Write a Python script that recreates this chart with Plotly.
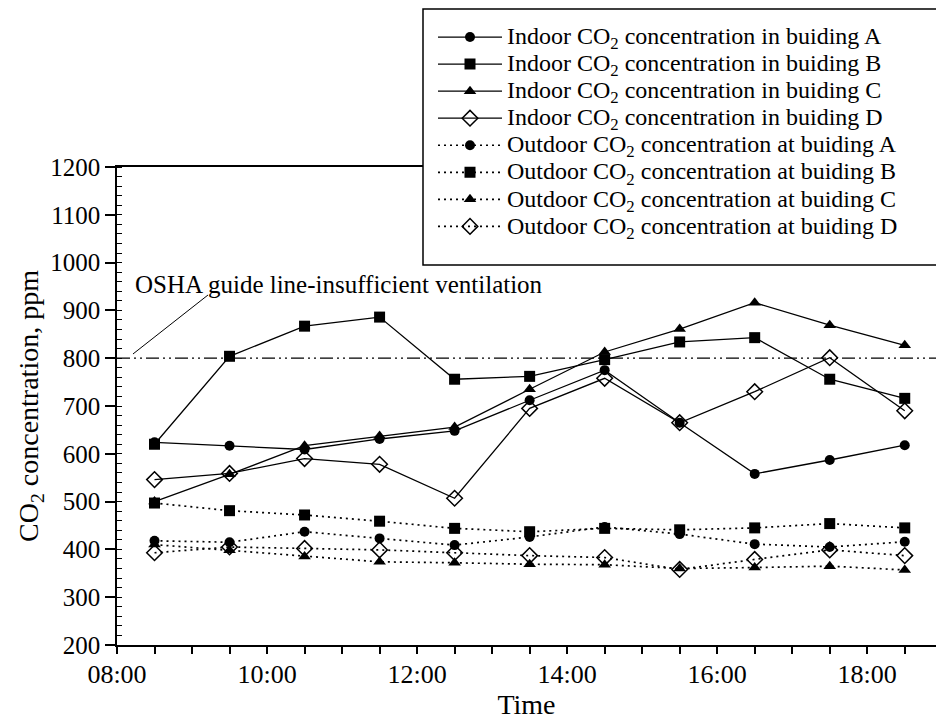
import plotly.graph_objects as go

# ---- data ----
times = ["08:30", "09:30", "10:30", "11:30", "12:30", "13:30",
         "14:30", "15:30", "16:30", "17:30", "18:30"]

indoor_A = [624, 617, 609, 631, 648, 712, 775, 665, 558, 587, 618]
indoor_B = [620, 804, 867, 886, 756, 762, 797, 834, 843, 756, 716]
indoor_C = [500, 557, 617, 637, 656, 735, 813, 861, 916, 869, 827]
indoor_D = [546, 559, 590, 578, 507, 695, 758, 665, 730, 801, 690]

outdoor_A = [418, 415, 437, 423, 409, 426, 447, 432, 411, 405, 416]
outdoor_B = [497, 481, 472, 459, 444, 437, 444, 441, 445, 454, 445]
outdoor_C = [410, 398, 385, 374, 372, 369, 368, 360, 362, 365, 357]
outdoor_D = [393, 405, 402, 399, 393, 387, 383, 358, 379, 399, 387]

osha_level = 800
osha_label = "OSHA guide line-insufficient ventilation"

# ---- build ----
DAY = "2000-01-01 "
x = [DAY + t for t in times]

FONT = "Liberation Serif, Times New Roman, serif"

series = [
    ("Indoor", "in", "A", indoor_A, "circle", 10, "solid"),
    ("Indoor", "in", "B", indoor_B, "square", 11, "solid"),
    ("Indoor", "in", "C", indoor_C, "triangle-up", 11, "solid"),
    ("Indoor", "in", "D", indoor_D, "diamond-open", 12, "solid"),
    ("Outdoor", "at", "A", outdoor_A, "circle", 10, "2px,4px"),
    ("Outdoor", "at", "B", outdoor_B, "square", 11, "2px,4px"),
    ("Outdoor", "at", "C", outdoor_C, "triangle-up", 11, "2px,4px"),
    ("Outdoor", "at", "D", outdoor_D, "diamond-open", 12, "2px,4px"),
]

fig = go.Figure()
for kind, prep, bld, vals, sym, size, dash in series:
    name = (f'<span style="font-size:24px">{kind} CO<sub>2</sub> '
            f'concentration {prep} buiding {bld}</span>')
    open_sym = sym.endswith("open")
    fig.add_trace(go.Scatter(
        x=x, y=vals, name=name, mode="lines+markers",
        line=dict(color="black", width=1.3 if dash == "solid" else 1.7, dash=dash),
        marker=dict(symbol=sym, size=size, color="black",
                    line=dict(color="black", width=1.5 if open_sym else 0)),
    ))

# OSHA guide line
fig.add_shape(type="line", xref="paper", x0=0, x1=1, yref="y", y0=osha_level, y1=osha_level,
              line=dict(color="black", width=1.3, dash="13px,4px,2px,4px,2px,4px"))
# leader line
fig.add_shape(type="line", xref="paper", yref="paper", x0=0.0195, y0=0.6088, x1=0.1111, y1=0.7322,
              line=dict(color="black", width=1))
fig.add_annotation(text=osha_label, xref="paper", yref="paper", x=0.0195, y=0.755,
                   xanchor="left", yanchor="middle", showarrow=False,
                   font=dict(family=FONT, size=25, color="black"))

# legend frame (runs off the right edge, as in the original)
fig.add_shape(type="rect", xref="paper", yref="paper", layer="above",
              x0=(423 - 117) / 819, x1=1.1, y0=(645 - 265) / 478, y1=(645 - 9) / 478,
              line=dict(color="black", width=1.5), fillcolor="white")

fig.update_layout(
    width=936, height=724,
    margin=dict(l=117, r=0, t=167, b=79, autoexpand=False),
    paper_bgcolor="white", plot_bgcolor="white",
    font=dict(family=FONT, color="black", size=26),
    showlegend=True,
    legend=dict(
        x=(433 - 117) / 819, y=(645 - 18.5) / 478, xanchor="left", yanchor="top",
        bgcolor="rgba(0,0,0,0)", borderwidth=0,
        font=dict(family=FONT, size=18.5, color="black"),
        itemwidth=64, tracegroupgap=0,
    ),
)

fig.update_xaxes(
    type="date", range=[DAY + "08:00", DAY + "18:55"], automargin=False,
    dtick=2 * 3600 * 1000, tick0=DAY + "08:00", tickformat="%H:%M",
    ticks="outside", ticklen=7, tickwidth=1.5, tickcolor="black",
    ticklabelstandoff=-2,
    minor=dict(dtick=30 * 60 * 1000, ticks="outside", ticklen=7, tickwidth=1.5, tickcolor="black"),
    showline=True, linecolor="black", linewidth=1.5, mirror=True,
    showgrid=False, zeroline=False,
    tickfont=dict(size=26),
    title=dict(text="Time", font=dict(size=28), standoff=6),
)
fig.update_yaxes(
    range=[200, 1200], dtick=100, tick0=200, automargin=False,
    ticks="outside", ticklen=10, tickwidth=1.5, tickcolor="black",
    minor=dict(dtick=20, ticks="inside", ticklen=5, tickwidth=1.2, tickcolor="black"),
    showline=True, linecolor="black", linewidth=1.5,
    showgrid=False, zeroline=False,
    tickfont=dict(size=25),
    title=dict(text="CO<sub>2</sub> concentration, ppm", font=dict(size=28), standoff=3),
)

fig.write_html("out.html", config={"displayModeBar": False},
               post_script="document.body.style.margin='0';document.body.style.overflow='hidden';")
